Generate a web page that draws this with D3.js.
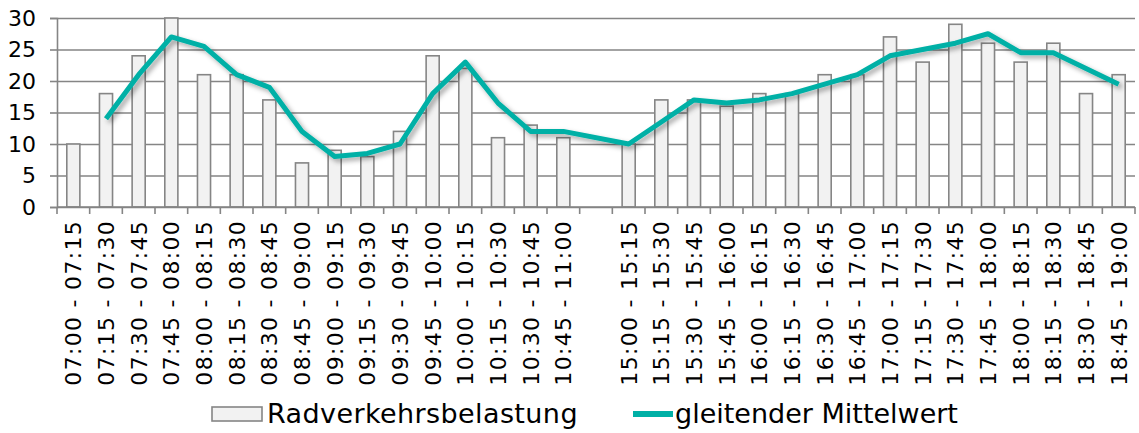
<!DOCTYPE html>
<html>
<head>
<meta charset="utf-8">
<script src="https://cdn.jsdelivr.net/npm/d3@7"></script>
<style>
  body { margin: 0; background: #fff; }
  svg { display: block; }
  svg text { font-family: "DejaVu Sans", Verdana, sans-serif; fill: #000; }
</style>
</head>
<body>
<div id="chart"></div>
<script>
// data
const categories = [
  "07:00 - 07:15", "07:15 - 07:30", "07:30 - 07:45", "07:45 - 08:00",
  "08:00 - 08:15", "08:15 - 08:30", "08:30 - 08:45", "08:45 - 09:00",
  "09:00 - 09:15", "09:15 - 09:30", "09:30 - 09:45", "09:45 - 10:00",
  "10:00 - 10:15", "10:15 - 10:30", "10:30 - 10:45", "10:45 - 11:00",
  "",
  "15:00 - 15:15", "15:15 - 15:30", "15:30 - 15:45", "15:45 - 16:00",
  "16:00 - 16:15", "16:15 - 16:30", "16:30 - 16:45", "16:45 - 17:00",
  "17:00 - 17:15", "17:15 - 17:30", "17:30 - 17:45", "17:45 - 18:00",
  "18:00 - 18:15", "18:15 - 18:30", "18:30 - 18:45", "18:45 - 19:00"
];
const belastung = [10,18,24,30,21,21,17,7,9,8,12,24,22,11,13,11,null,
                   10,17,17,16,18,18,21,21,27,23,29,26,23,26,18,21];
const mittelwert = [null,14,21,27,25.5,21,19,12,8,8.5,10,18,23,16.5,12,12,null,
                    10,13.5,17,16.5,17,18,19.5,21,24,25,26,27.5,24.5,24.5,22,19.5];
const yTicks = [0,5,10,15,20,25,30];
const legendLabels = ["Radverkehrsbelastung", "gleitender Mittelwert"];

const width = 1139, height = 433;
const margin = {t:18, r:4, b:226, l:57};
const w = width - margin.l - margin.r;
const h = height - margin.t - margin.b;

const teal = '#00b0a6';
const grey = '#858585';

const svg = d3.select('#chart').append('svg')
  .attr('width', width)
  .attr('height', height);

const defs = svg.append('defs');
const shadow = defs.append('filter').attr('id','shadow')
  .attr('x','-5%').attr('y','-20%').attr('width','110%').attr('height','140%');
shadow.append('feDropShadow')
  .attr('dx',3).attr('dy',3).attr('stdDeviation',2.5)
  .attr('flood-color','#000').attr('flood-opacity',0.35);

const plot = svg.append('g')
  .attr('transform', `translate(${margin.l},${margin.t})`);

//Scales
const scaleX = d3.scaleBand().domain(d3.range(categories.length)).range([0,w]);
const scaleY = d3.scaleLinear().domain([0,30]).range([h,0]);
const bw = scaleX.bandwidth();

//Gridlines
const grid = plot.append('g').attr('class','grid')
  .call(d3.axisLeft(scaleY).tickValues(yTicks).tickSize(-w).tickFormat(''));
grid.select('.domain').remove();
grid.selectAll('line').style('stroke', grey).style('stroke-width',1.6);

//Y axis
const axisY = plot.append('g').attr('class','axis-y')
  .call(d3.axisLeft(scaleY).tickValues(yTicks).tickSize(7).tickPadding(14));
axisY.select('.domain').style('stroke', grey).style('stroke-width',1.6);
axisY.selectAll('line').style('stroke', grey).style('stroke-width',1.6);
axisY.selectAll('text')
  .style('font-size','22px');

//Bars
plot.selectAll('.bar')
  .data(belastung.map((v,i) => ({i, v})).filter(d => d.v != null))
  .enter()
  .append('rect')
  .attr('class','bar')
  .attr('x', d => scaleX(d.i) + bw*0.3)
  .attr('width', bw*0.4)
  .attr('y', d => scaleY(d.v))
  .attr('height', d => h - scaleY(d.v))
  .style('fill','#f2f2f2')
  .style('stroke', grey)
  .style('stroke-width',1.6);

//X axis
const axisX = plot.append('g').attr('class','axis-x')
  .attr('transform',`translate(0,${h})`)
  .call(d3.axisBottom(scaleX).tickSizeOuter(0).tickSize(7)
    .tickFormat(i => categories[i]));
axisX.select('.domain').style('stroke', grey).style('stroke-width',1.6)
  .attr('d', `M0,0H${w}`);
axisX.selectAll('.tick line')
  .attr('x1', -bw/2).attr('x2', -bw/2)
  .style('stroke', grey).style('stroke-width',1.6);
axisX.append('line')
  .attr('x1', w).attr('x2', w).attr('y1',0).attr('y2',7)
  .style('stroke', grey).style('stroke-width',1.6);
axisX.selectAll('.tick text')
  .attr('transform','rotate(-90)')
  .attr('x',-13).attr('y',0).attr('dy','0.36em')
  .style('text-anchor','end')
  .style('font-size','22px')
  .style('letter-spacing','1.3px');

//Moving average line (connects across the gap)
const lineGen = d3.line()
  .x(d => scaleX(d.i) + bw/2)
  .y(d => scaleY(d.v));
plot.append('path')
  .datum(mittelwert.map((v,i) => ({i, v})).filter(d => d.v != null))
  .attr('d', lineGen)
  .attr('filter','url(#shadow)')
  .style('fill','none')
  .style('stroke', teal)
  .style('stroke-width',5)
  .style('stroke-linejoin','round');

//Legend
const legend = svg.append('g').attr('class','legend');
legend.append('rect')
  .attr('x',212).attr('y',407).attr('width',50).attr('height',14)
  .style('fill','#f2f2f2').style('stroke',grey).style('stroke-width',1.6);
legend.append('text')
  .attr('x',267).attr('y',423)
  .style('font-size','27px')
  .style('letter-spacing','0.4px')
  .text(legendLabels[0]);
legend.append('line')
  .attr('x1',633).attr('x2',673).attr('y1',414).attr('y2',414)
  .style('stroke',teal).style('stroke-width',6);
legend.append('text')
  .attr('x',675).attr('y',423)
  .style('font-size','27px')
  .text(legendLabels[1]);
</script>
</body>
</html>
